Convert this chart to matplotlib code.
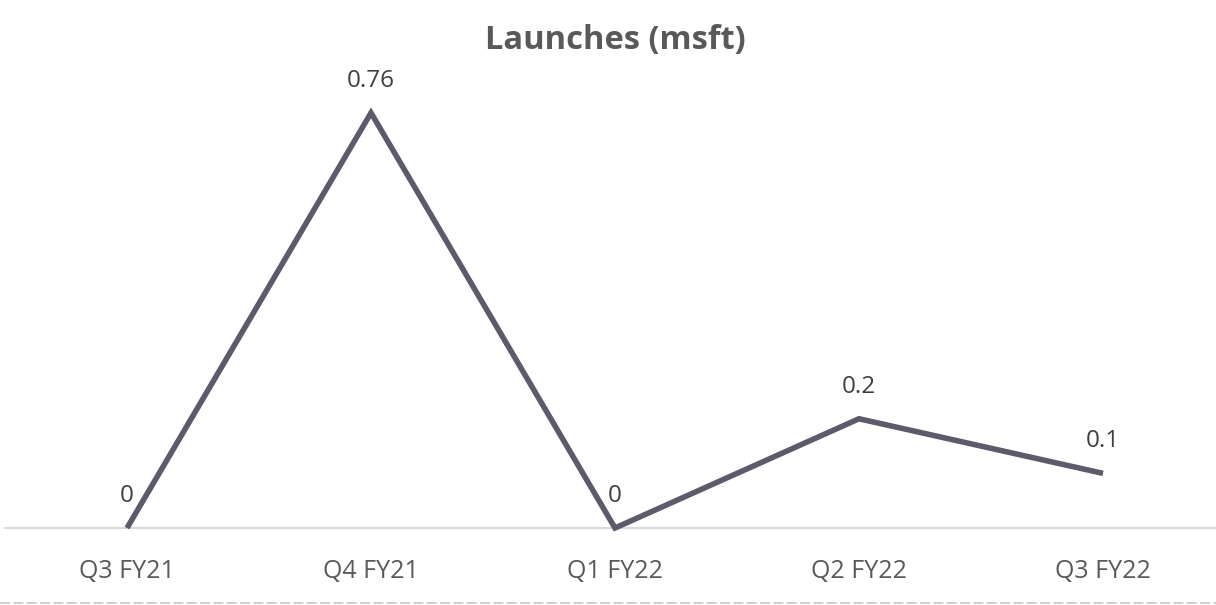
import matplotlib
matplotlib.use("Agg")
import matplotlib.pyplot as plt
from matplotlib.lines import Line2D

quarters = ["Q3 FY21", "Q4 FY21", "Q1 FY22", "Q2 FY22", "Q3 FY22"]
launches = [0, 0.76, 0, 0.2, 0.1]
value_labels = ["0", "0.76", "0", "0.2", "0.1"]

W, H = 1216, 605
fig = plt.figure(figsize=(W / 100, H / 100), dpi=100)
fig.patch.set_facecolor("white")

# axes: x from -0.5..4.5 over pixels 5..1225, y 0..0.8 over pixels 528..91
left, right = 5, 1225
bottom_px, top_px = 528, 91
ax = fig.add_axes([left / W, (H - bottom_px) / H, (right - left) / W, (bottom_px - top_px) / H])
ax.set_xlim(-0.5, 4.5)
ax.set_ylim(0, 0.8)
ax.patch.set_alpha(0)

line_color = "#5e5a6b"
x = list(range(len(quarters)))
ax.plot(x, launches, color=line_color, lw=4.0, solid_capstyle="butt",
        solid_joinstyle="miter", clip_on=False, zorder=3)

for xi, v, lab in zip(x, launches, value_labels):
    ax.annotate(lab, (xi, v), xytext=(0, 23), textcoords="offset points",
                ha="center", va="center", fontsize=17.5, color="#404040",
                family="Open Sans")

for s in ["top", "right", "left"]:
    ax.spines[s].set_visible(False)
ax.spines["bottom"].set_color("#d9d9d9")
ax.spines["bottom"].set_linewidth(1.5)
ax.spines["bottom"].set_zorder(1)

ax.set_yticks([])
ax.set_xticks(x)
ax.set_xticklabels(quarters, fontsize=18, color="#595959", family="Open Sans")
ax.tick_params(axis="x", length=0, pad=22)

fig.text(615 / W, 1 - 40 / H, "Launches (msft)", ha="center", va="center",
         fontsize=23.5, fontweight="bold", color="#595959", family="Open Sans")

# dashed rule along the bottom edge
fig.add_artist(Line2D([0, 1], [1 - 603 / H, 1 - 603 / H], transform=fig.transFigure,
                      color="#c8c8c8", lw=1.2, ls=(0, (6, 2))))

fig.savefig("out.png", dpi=100, facecolor="white")
